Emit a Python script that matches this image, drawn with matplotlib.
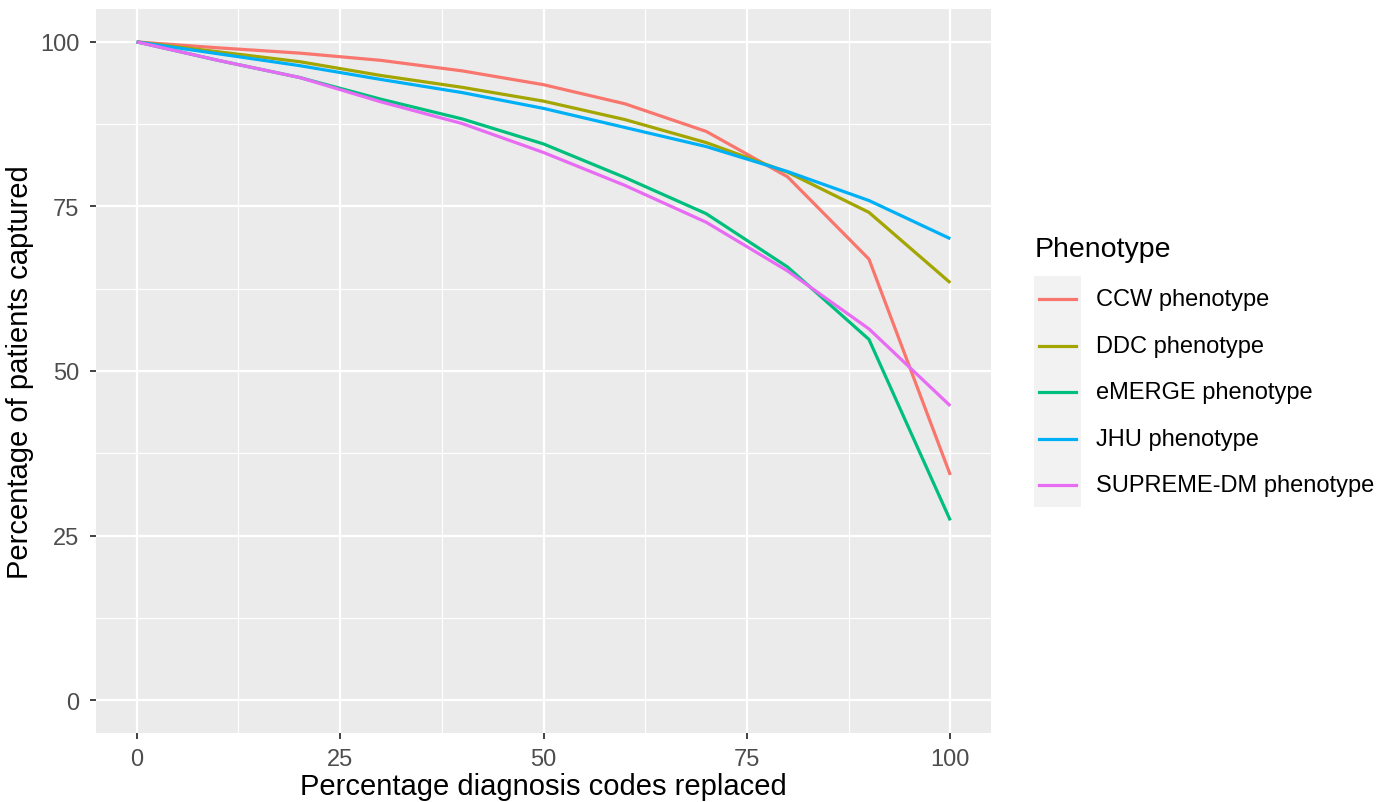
import matplotlib.pyplot as plt
from matplotlib.lines import Line2D
from matplotlib.patches import Rectangle

plt.rcParams['font.family'] = ['Liberation Sans', 'DejaVu Sans']

replaced = [0, 10, 20, 30, 40, 50, 60, 70, 80, 90, 100]

ccw = [100, 99.1, 98.3, 97.2, 95.6, 93.5, 90.6, 86.4, 79.5, 67.0, 34.2]
ddc = [100, 98.5, 97.0, 94.9, 93.1, 91.0, 88.2, 84.7, 80.2, 74.1, 63.4]
emerge = [100, 97.2, 94.6, 91.3, 88.3, 84.5, 79.4, 73.9, 65.8, 54.8, 27.3]
jhu = [100, 98.2, 96.4, 94.3, 92.3, 89.9, 87.0, 84.1, 80.3, 75.9, 70.1]
supreme = [100, 97.2, 94.6, 90.9, 87.6, 83.2, 78.2, 72.6, 65.2, 56.4, 44.7]

labels = ["CCW phenotype", "DDC phenotype", "eMERGE phenotype",
          "JHU phenotype", "SUPREME-DM phenotype"]
colors = ["#F8766D", "#A3A500", "#00BF7D", "#00B0F6", "#E76BF3"]
series = [ccw, ddc, emerge, jhu, supreme]

ticks = [0, 25, 50, 75, 100]

fig = plt.figure(figsize=(13.9, 8.03), dpi=100)
ax = fig.add_axes([96 / 1390, 1 - 734 / 803, 895 / 1390, 724 / 803])
ax.set_facecolor("#EBEBEB")
for s in ax.spines.values():
    s.set_visible(False)

ax.set_xlim(-5, 105)
ax.set_ylim(-5, 105)
ax.set_xticks(ticks)
ax.set_yticks(ticks)
ax.set_xticks([12.5, 37.5, 62.5, 87.5], minor=True)
ax.set_yticks([12.5, 37.5, 62.5, 87.5], minor=True)
ax.grid(which="major", color="white", linewidth=1.6)
ax.grid(which="minor", color="white", linewidth=0.8)
ax.set_axisbelow(True)
ax.tick_params(which="major", length=4, width=1.3, color="#333333",
               labelsize=17, labelcolor="#4D4D4D")
ax.tick_params(axis="x", which="major", pad=7)
ax.tick_params(axis="y", which="major", pad=8)
ax.tick_params(which="minor", length=0)

for vals, c in zip(series, colors):
    ax.plot(replaced, vals, color=c, linewidth=2.3, solid_capstyle="butt")

ax.set_xlabel("Percentage diagnosis codes replaced", fontsize=21, labelpad=1)
ax.set_ylabel("Percentage of patients captured", fontsize=21, labelpad=4)

# legend drawn by hand, ggplot style
fig.text(1035 / 1390, 1 - 250 / 803, "Phenotype", fontsize=20.5,
         va="center", ha="left")
fig.add_artist(Rectangle((1034 / 1390, 1 - 508 / 803), 47 / 1390, 231 / 803,
                         transform=fig.transFigure, facecolor="#F2F2F2",
                         edgecolor="none"))
ys = [300, 347, 393, 440, 486]
for y, lab, c in zip(ys, labels, colors):
    fig.add_artist(Line2D([1039 / 1390, 1076 / 1390], [1 - y / 803] * 2,
                          transform=fig.transFigure, color=c, linewidth=2.3))
    fig.text(1096 / 1390, 1 - y / 803, lab, fontsize=17, va="center",
             ha="left")

fig.savefig("out.png", dpi=100)
